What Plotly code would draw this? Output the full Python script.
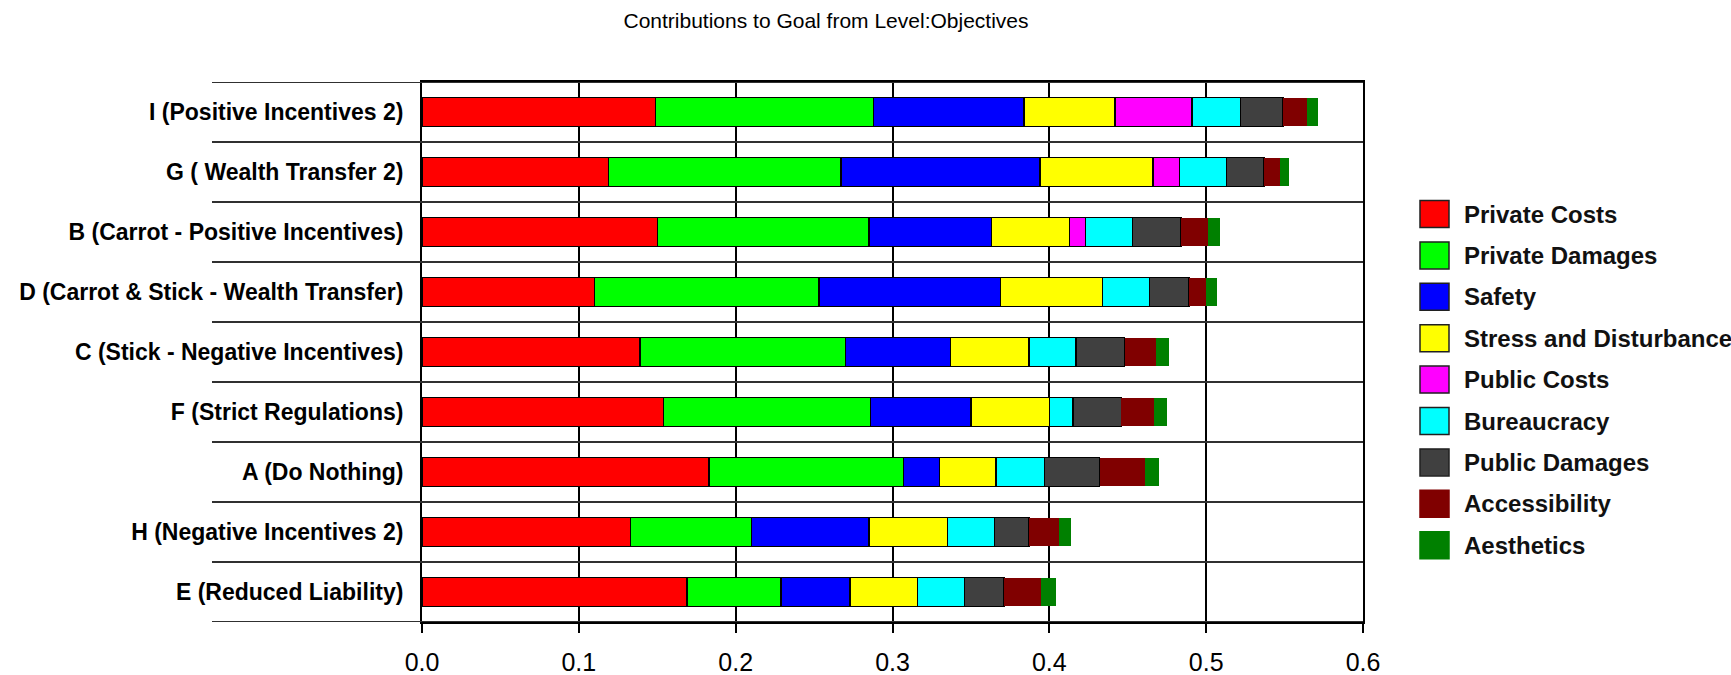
import plotly.graph_objects as go

# Alternatives, listed top to bottom
categories = [
    "I (Positive Incentives 2)",
    "G ( Wealth Transfer 2)",
    "B (Carrot - Positive Incentives)",
    "D (Carrot & Stick - Wealth Transfer)",
    "C (Stick - Negative Incentives)",
    "F (Strict Regulations)",
    "A (Do Nothing)",
    "H (Negative Incentives 2)",
    "E (Reduced Liability)",
]

# Contribution of each objective to the goal, per alternative
private_costs = [0.149, 0.119, 0.150, 0.110, 0.139, 0.154, 0.183, 0.133, 0.169]
private_damages = [0.139, 0.148, 0.135, 0.143, 0.131, 0.132, 0.124, 0.077, 0.060]
safety = [0.096, 0.127, 0.078, 0.116, 0.067, 0.064, 0.023, 0.075, 0.044]
stress_disturbance = [0.058, 0.072, 0.050, 0.065, 0.050, 0.050, 0.036, 0.050, 0.043]
public_costs = [0.049, 0.017, 0.010, None, None, None, None, None, None]
bureaucracy = [0.031, 0.030, 0.030, 0.030, 0.030, 0.015, 0.031, 0.030, 0.030]
public_damages = [0.027, 0.024, 0.031, 0.025, 0.031, 0.031, 0.035, 0.022, 0.025]
accessibility = [0.015, 0.010, 0.017, 0.011, 0.020, 0.021, 0.029, 0.019, 0.024]
aesthetics = [0.007, 0.006, 0.008, 0.007, 0.008, 0.008, 0.009, 0.008, 0.009]

series_names = [
    "Private Costs", "Private Damages", "Safety", "Stress and Disturbance",
    "Public Costs", "Bureaucracy", "Public Damages", "Accessibility", "Aesthetics",
]
series_values = [
    private_costs, private_damages, safety, stress_disturbance,
    public_costs, bureaucracy, public_damages, accessibility, aesthetics,
]
series_colors = [
    "#FF0000", "#00FF00", "#0000FF", "#FFFF00",
    "#FF00FF", "#00FFFF", "#404040", "#800000", "#008000",
]
# the last two segments are drawn without an outline
series_outline = [True, True, True, True, True, True, True, False, False]

x_ticks = [0.0, 0.1, 0.2, 0.3, 0.4, 0.5, 0.6]
x_tick_text = ["0.0", "0.1", "0.2", "0.3", "0.4", "0.5", "0.6"]

# figure geometry (pixels)
FIG_W, FIG_H = 1731, 675
PL, PR, PT, PB = 422, 1363, 82, 622
PW, PH = PR - PL, PB - PT


def px_x(px):
    return (px - PL) / PW


def px_y(py):
    return (PB - py) / PH


FONT = "Liberation Sans, Arial, sans-serif"

fig = go.Figure()
for name, vals, color, outlined in zip(series_names, series_values, series_colors, series_outline):
    fig.add_trace(go.Bar(
        y=categories,
        x=vals,
        name=name,
        orientation="h",
        marker=dict(
            color=color,
            line=dict(color="#000000", width=1.5 if outlined else 0),
        ),
        showlegend=False,
    ))

n = len(categories)
shapes = []
# row separators, reaching into the label column
for i in range(n + 1):
    shapes.append(dict(
        type="line", xref="paper", yref="y",
        x0=px_x(212), x1=1, y0=i - 0.5, y1=i - 0.5,
        line=dict(color="#303030", width=2),
        layer="above",
    ))

annotations = []
# legend: swatches plus labels
for k, (name, color, outlined) in enumerate(zip(series_names, series_colors, series_outline)):
    cy = 214 + 41.4 * k
    shapes.append(dict(
        type="rect", xref="paper", yref="paper",
        x0=px_x(1420), x1=px_x(1449), y0=px_y(cy + 13.5), y1=px_y(cy - 13.5),
        fillcolor=color,
        line=dict(color="#202020" if outlined else color, width=1.5),
    ))
    annotations.append(dict(
        xref="paper", yref="paper", x=px_x(1462), y=px_y(cy),
        xanchor="left", yanchor="middle", showarrow=False,
        text="<b>" + name + "</b>",
        font=dict(family=FONT, size=24, color="#111111"),
    ))

fig.update_layout(
    width=FIG_W, height=FIG_H,
    margin=dict(l=PL, r=FIG_W - PR, t=PT, b=FIG_H - PB, pad=0, autoexpand=False),
    paper_bgcolor="#FFFFFF", plot_bgcolor="#FFFFFF",
    barmode="stack",
    bargap=0.52,
    title=dict(
        text="Contributions to Goal from Level:Objectives",
        x=826 / FIG_W, xanchor="center", xref="container",
        y=1 - 21 / FIG_H, yanchor="middle", yref="container",
        font=dict(family=FONT, size=21, color="#000000"),
        automargin=False,
    ),
    xaxis=dict(
        range=[0, 0.6],
        tickvals=x_ticks, ticktext=x_tick_text,
        showgrid=True, gridcolor="#000000", gridwidth=2,
        zeroline=False,
        showline=True, linecolor="#000000", linewidth=2, mirror=True,
        ticks="outside", ticklen=9, tickwidth=2, tickcolor="#000000",
        ticklabelstandoff=8,
        tickfont=dict(family=FONT, size=25, color="#000000"),
        automargin=False,
    ),
    yaxis=dict(
        type="category",
        categoryorder="array", categoryarray=categories,
        range=[n - 0.5, -0.5],
        showgrid=False, zeroline=False,
        showline=True, linecolor="#000000", linewidth=2, mirror=True,
        ticks="", ticklabelstandoff=12,
        tickfont=dict(family=FONT, size=23, color="#000000"),
        tickprefix="<b>", ticksuffix="</b>",
        automargin=False,
    ),
    shapes=shapes,
    annotations=annotations,
)

fig.write_html("out.html")
